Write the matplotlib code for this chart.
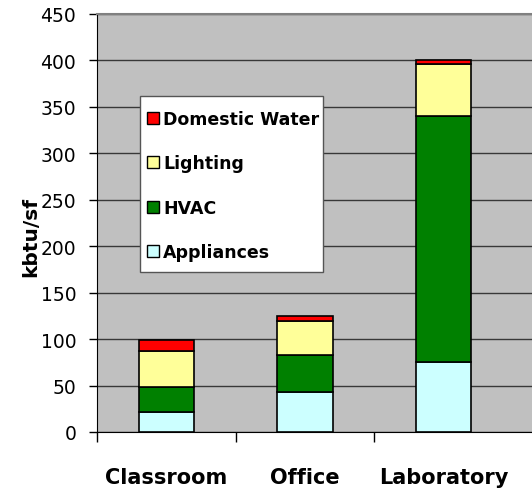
import matplotlib.pyplot as plt
import numpy as np
from matplotlib.patches import Rectangle

# datos
categorias = ["Classroom", "Office", "Laboratory"]
appliances = [22, 43, 75]
hvac = [26, 40, 265]
lighting = [39, 37, 56]
domestic_water = [12, 5, 4]

series = [
    ("Appliances", appliances, "#CCFFFF"),
    ("HVAC", hvac, "#008000"),
    ("Lighting", lighting, "#FFFF99"),
    ("Domestic Water", domestic_water, "#FF0000"),
]

fig = plt.figure(figsize=(5.32, 4.89), dpi=100)
ax = fig.add_axes([97 / 532, 56 / 489, 435 / 532, 418 / 489])
ax.set_facecolor("#C0C0C0")

x = np.arange(len(categorias))
base = np.zeros(len(categorias))
for nombre, valores, color in series:
    ax.bar(x, valores, bottom=base, width=0.4, color=color,
           edgecolor="black", linewidth=1.2, zorder=3)
    base += np.array(valores)

# ejes
ax.set_ylim(0, 450)
ax.set_xlim(-0.5, 2.64)
ax.set_yticks(np.arange(0, 451, 50))
ax.tick_params(axis="y", direction="out", length=6, width=1, pad=9,
               labelsize=13.5, colors="black")
ax.yaxis.grid(True, color="#383838", linewidth=1)
ax.set_axisbelow(True)

ax.set_xticks(x)
ax.set_xticklabels(categorias, fontsize=15, fontweight="bold")
ax.tick_params(axis="x", which="major", length=0, pad=25)
ax.set_xticks([-0.5, 0.5, 1.5], minor=True)
ax.tick_params(axis="x", which="minor", direction="out", length=7, width=1)

ax.spines["right"].set_visible(False)
ax.spines["top"].set_color("#808080")
ax.spines["top"].set_linewidth(1.5)
ax.spines["left"].set_color("black")
ax.spines["bottom"].set_color("black")

ax.set_ylabel("kbtu/sf", fontsize=14.5, fontweight="bold")
ax.yaxis.set_label_coords(-0.131, 0.47)

# leyenda hecha a mano (orden inverso), en coordenadas de ejes
ax.add_patch(Rectangle((0.0989, 0.3828), 0.4207, 0.4211, transform=ax.transAxes,
                       facecolor="white", edgecolor="#555555", linewidth=1,
                       zorder=5))
filas_y = [0.7368, 0.6316, 0.5251, 0.4187]
for (nombre, _, color), yb in zip(reversed(series), filas_y):
    ax.add_patch(Rectangle((0.115, yb), 0.0276, 0.0287, transform=ax.transAxes,
                           facecolor=color, edgecolor="black", linewidth=1,
                           zorder=6))
    ax.text(0.1517, yb, nombre, transform=ax.transAxes, fontsize=12.5,
            fontweight="bold", va="baseline", ha="left", zorder=6)

plt.savefig("out.png", dpi=100)
